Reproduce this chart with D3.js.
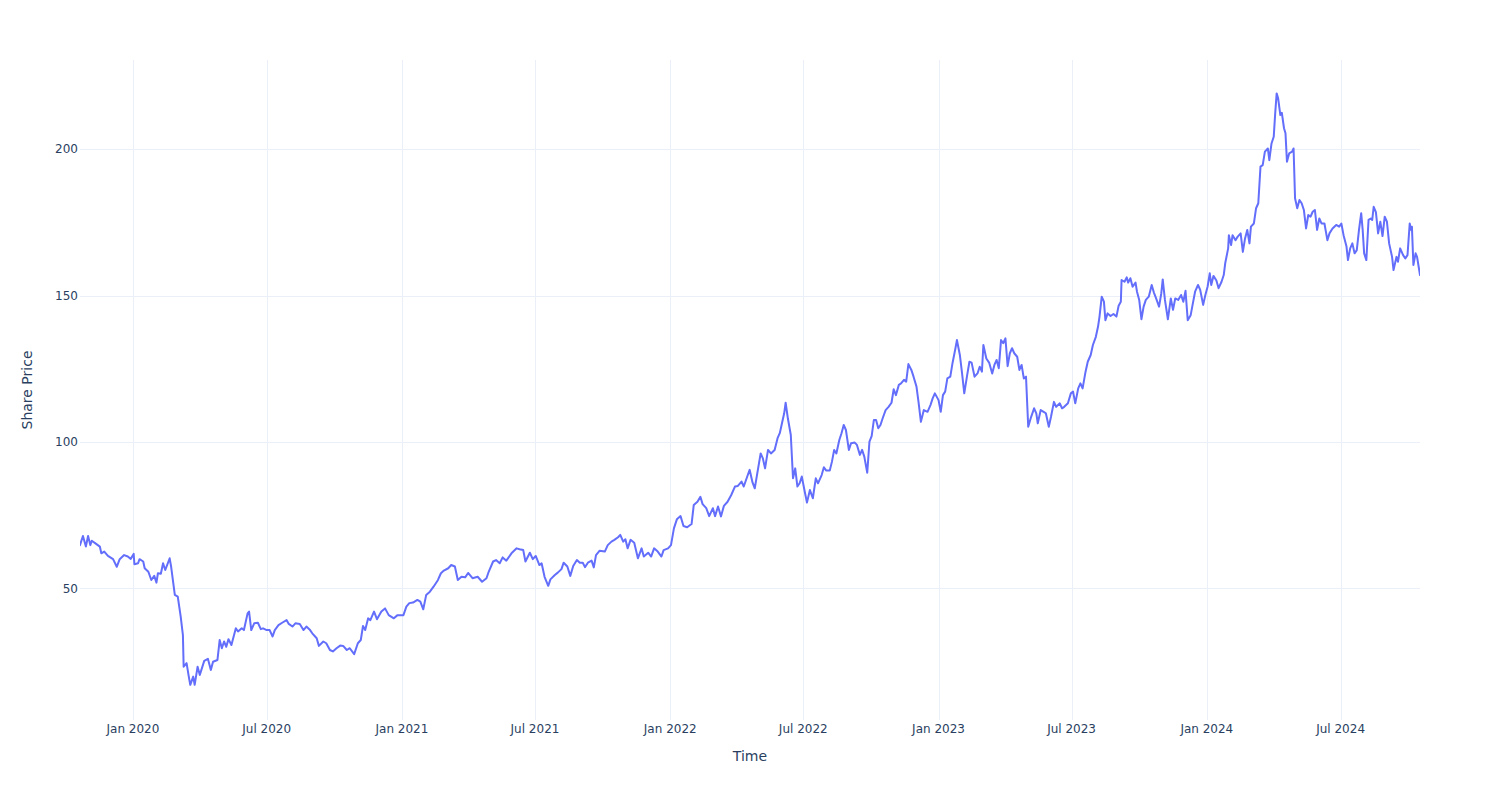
<!DOCTYPE html>
<html><head><meta charset="utf-8">
<script src="https://cdn.jsdelivr.net/npm/d3@7"></script>
<style>body{margin:0;background:#fff}svg{display:block}</style>
</head><body>
<svg id="chart" width="1500" height="800"></svg>
<script>
const dates = [
"2019-10-21","2019-10-25","2019-10-29","2019-11-01","2019-11-04","2019-11-06","2019-11-11","2019-11-17","2019-11-19","2019-11-23","2019-11-28",
"2019-12-05","2019-12-10","2019-12-14","2019-12-20","2019-12-25","2019-12-29",
"2020-01-02","2020-01-03","2020-01-08","2020-01-10","2020-01-15","2020-01-17","2020-01-22","2020-01-26","2020-01-30",
"2020-02-02","2020-02-04","2020-02-08","2020-02-11","2020-02-14","2020-02-20","2020-02-22","2020-02-27",
"2020-03-02","2020-03-06","2020-03-09","2020-03-10","2020-03-14","2020-03-17","2020-03-19","2020-03-23","2020-03-25","2020-03-29",
"2020-04-01","2020-04-07","2020-04-12","2020-04-16","2020-04-19","2020-04-25","2020-04-28",
"2020-05-01","2020-05-04","2020-05-07","2020-05-10","2020-05-14","2020-05-20","2020-05-23","2020-05-28","2020-05-31",
"2020-06-05","2020-06-07","2020-06-10","2020-06-14","2020-06-19","2020-06-23","2020-06-26",
"2020-07-01","2020-07-05","2020-07-09","2020-07-12","2020-07-17","2020-07-22","2020-07-28","2020-07-31",
"2020-08-05","2020-08-09","2020-08-15","2020-08-20","2020-08-24","2020-08-29",
"2020-09-01","2020-09-07","2020-09-10","2020-09-16","2020-09-20","2020-09-25","2020-09-29",
"2020-10-04","2020-10-09","2020-10-13","2020-10-18","2020-10-22","2020-10-28",
"2020-11-02","2020-11-06","2020-11-09","2020-11-12","2020-11-16","2020-11-19","2020-11-24","2020-11-28",
"2020-12-04","2020-12-09","2020-12-14","2020-12-21","2020-12-26",
"2021-01-03","2021-01-07","2021-01-11","2021-01-16","2021-01-22","2021-01-26","2021-01-30",
"2021-02-03","2021-02-08","2021-02-13","2021-02-19","2021-02-23","2021-02-27",
"2021-03-05","2021-03-09","2021-03-14","2021-03-18","2021-03-23","2021-03-28",
"2021-04-01","2021-04-07","2021-04-14","2021-04-20","2021-04-26","2021-04-29",
"2021-05-05","2021-05-09","2021-05-14","2021-05-18","2021-05-23","2021-05-30",
"2021-06-06","2021-06-10","2021-06-15","2021-06-18","2021-06-24","2021-06-28",
"2021-07-02","2021-07-07","2021-07-10","2021-07-14","2021-07-19","2021-07-22","2021-07-28",
"2021-08-01","2021-08-06","2021-08-09","2021-08-14","2021-08-18","2021-08-22","2021-08-27","2021-08-31",
"2021-09-04","2021-09-07","2021-09-11","2021-09-16","2021-09-19","2021-09-22","2021-09-27",
"2021-10-04","2021-10-08","2021-10-13","2021-10-17","2021-10-22","2021-10-25","2021-10-29",
"2021-11-01","2021-11-04","2021-11-08","2021-11-13","2021-11-18","2021-11-23","2021-11-26",
"2021-12-02","2021-12-06","2021-12-10","2021-12-15","2021-12-20","2021-12-23","2021-12-29",
"2022-01-02","2022-01-06","2022-01-10","2022-01-15","2022-01-19","2022-01-24","2022-01-30",
"2022-02-02","2022-02-07","2022-02-11","2022-02-14","2022-02-19","2022-02-23","2022-02-28",
"2022-03-03","2022-03-07","2022-03-11","2022-03-15","2022-03-20","2022-03-25","2022-03-30",
"2022-04-03","2022-04-08","2022-04-11","2022-04-16","2022-04-19","2022-04-23","2022-04-26","2022-04-29",
"2022-05-04","2022-05-07","2022-05-10","2022-05-14","2022-05-18","2022-05-23","2022-05-27","2022-05-30",
"2022-06-02","2022-06-05","2022-06-07","2022-06-10","2022-06-14","2022-06-17","2022-06-20","2022-06-23","2022-06-26","2022-06-29",
"2022-07-03","2022-07-06","2022-07-10","2022-07-14","2022-07-18","2022-07-21","2022-07-26","2022-07-29",
"2022-08-01","2022-08-06","2022-08-09","2022-08-12","2022-08-15","2022-08-19","2022-08-22","2022-08-25","2022-08-28",
"2022-09-01","2022-09-04","2022-09-09","2022-09-12","2022-09-16","2022-09-19","2022-09-22","2022-09-26","2022-09-29",
"2022-10-02","2022-10-05","2022-10-08","2022-10-11","2022-10-14","2022-10-17","2022-10-21","2022-10-25","2022-10-29",
"2022-11-01","2022-11-04","2022-11-08","2022-11-11","2022-11-15","2022-11-18","2022-11-21","2022-11-25","2022-11-28",
"2022-12-02","2022-12-05","2022-12-08","2022-12-12","2022-12-17","2022-12-21","2022-12-24","2022-12-27",
"2023-01-01","2023-01-04","2023-01-07","2023-01-10","2023-01-13","2023-01-17","2023-01-20","2023-01-24","2023-01-26","2023-01-30",
"2023-02-02","2023-02-05","2023-02-09","2023-02-12","2023-02-15","2023-02-19","2023-02-23","2023-02-26",
"2023-03-01","2023-03-03","2023-03-07","2023-03-11","2023-03-15","2023-03-18","2023-03-21","2023-03-24","2023-03-27","2023-03-30",
"2023-04-02","2023-04-05","2023-04-08","2023-04-11","2023-04-14","2023-04-18","2023-04-21","2023-04-24","2023-04-27","2023-04-30",
"2023-05-03","2023-05-07","2023-05-11","2023-05-14","2023-05-16","2023-05-20","2023-05-24","2023-05-27","2023-05-31",
"2023-06-03","2023-06-07","2023-06-10","2023-06-15","2023-06-18","2023-06-21","2023-06-26","2023-06-30",
"2023-07-03","2023-07-06","2023-07-10","2023-07-13","2023-07-16","2023-07-20","2023-07-23","2023-07-27","2023-07-30",
"2023-08-03","2023-08-06","2023-08-08","2023-08-11","2023-08-14","2023-08-16","2023-08-19","2023-08-23","2023-08-27","2023-08-31",
"2023-09-03","2023-09-06","2023-09-07","2023-09-11","2023-09-14","2023-09-16","2023-09-19","2023-09-22","2023-09-26","2023-09-28",
"2023-10-01","2023-10-04","2023-10-07","2023-10-10","2023-10-14","2023-10-18","2023-10-21","2023-10-24","2023-10-28","2023-10-31",
"2023-11-02","2023-11-05","2023-11-09","2023-11-13","2023-11-16","2023-11-19","2023-11-23","2023-11-27","2023-11-30",
"2023-12-03","2023-12-06","2023-12-10","2023-12-13","2023-12-16","2023-12-20","2023-12-23","2023-12-27","2023-12-30",
"2024-01-02","2024-01-05","2024-01-07","2024-01-10","2024-01-14","2024-01-17","2024-01-21","2024-01-24","2024-01-26","2024-01-30","2024-01-31",
"2024-02-03","2024-02-05","2024-02-09","2024-02-12","2024-02-16","2024-02-19","2024-02-22","2024-02-25","2024-02-28",
"2024-03-01","2024-03-05","2024-03-08","2024-03-11","2024-03-14","2024-03-17","2024-03-20","2024-03-24","2024-03-26","2024-03-29",
"2024-04-01","2024-04-03","2024-04-05","2024-04-07","2024-04-10","2024-04-12","2024-04-15","2024-04-17","2024-04-19","2024-04-22","2024-04-26","2024-04-28","2024-04-30",
"2024-05-03","2024-05-06","2024-05-09","2024-05-12","2024-05-15","2024-05-18","2024-05-21","2024-05-24","2024-05-27","2024-05-30",
"2024-06-02","2024-06-05","2024-06-09","2024-06-13","2024-06-16","2024-06-20","2024-06-25","2024-06-29",
"2024-07-02","2024-07-05","2024-07-09","2024-07-11","2024-07-14","2024-07-17","2024-07-20","2024-07-23","2024-07-26","2024-07-29","2024-07-31",
"2024-08-02","2024-08-05","2024-08-08","2024-08-11","2024-08-13","2024-08-15","2024-08-18","2024-08-21","2024-08-24","2024-08-27","2024-08-30",
"2024-09-02","2024-09-05","2024-09-09","2024-09-11","2024-09-15","2024-09-17","2024-09-20","2024-09-24","2024-09-27","2024-09-30",
"2024-10-03","2024-10-05","2024-10-06","2024-10-08","2024-10-11","2024-10-13","2024-10-17"
];
const prices = [
64.8,67.9,64.3,67.9,64.8,66.3,65.4,64.3,62.0,62.6,61.1,
60.0,57.4,60.0,61.4,60.9,60.1,
61.8,58.3,58.6,60.0,59.2,56.9,55.7,52.9,54.3,
52.0,55.2,55.0,58.6,56.3,60.3,57.4,47.8,
47.2,40.4,34.1,23.3,24.5,19.9,17.1,19.9,17.1,23.3,
20.5,25.3,26.0,22.2,25.0,25.6,32.4,
29.6,31.9,30.1,32.7,30.7,36.4,35.3,36.4,35.8,
41.5,42.1,35.8,38.1,38.3,36.1,36.4,
35.8,35.8,33.6,35.8,37.5,38.3,39.2,37.9,
37.0,38.1,37.9,35.8,37.0,35.8,
34.7,33.0,30.4,31.9,31.3,29.0,28.5,
29.6,30.5,30.4,29.0,29.6,27.6,
31.3,32.4,37.2,35.8,39.8,39.2,42.1,39.5,
42.1,43.2,40.9,39.8,40.9,
40.9,43.8,45.0,45.2,46.1,45.5,42.9,
47.8,48.9,50.6,52.9,55.2,56.1,
56.9,58.0,57.5,52.9,54.0,53.8,
55.3,53.5,54.0,52.3,53.5,55.7,
59.2,59.7,58.6,60.6,59.5,62.0,
63.7,63.4,63.1,59.2,62.2,60.0,
61.1,58.0,58.6,54.0,50.9,53.1,54.6,
55.4,56.6,58.8,57.5,54.3,57.7,59.7,58.8,
58.8,57.3,58.8,59.5,57.2,61.4,62.9,
62.6,64.8,66.0,66.6,67.5,68.3,66.0,
66.8,63.7,66.6,65.6,60.3,63.7,60.9,
62.2,60.9,63.7,62.6,60.9,63.1,63.7,
64.8,70.5,73.6,74.7,71.3,70.9,72.0,
78.5,79.6,81.3,78.8,77.4,74.7,77.4,
74.7,78.0,74.6,78.2,79.6,81.9,84.8,
85.0,86.5,84.8,88.4,90.5,86.1,84.2,88.7,
96.1,94.4,91.0,97.3,96.1,97.3,101.3,103.0,
106.4,109.8,113.4,108.1,102.4,87.6,91.0,84.8,85.9,88.2,
83.0,79.3,83.6,80.8,87.6,85.9,88.7,91.4,
90.3,90.3,93.3,97.3,96.1,100.7,103.0,105.8,104.1,
97.3,99.6,99.8,99.0,95.6,97.3,95.0,89.5,100.1,
102.0,107.5,107.5,104.7,105.8,108.1,110.9,112.0,113.4,
118.0,116.0,119.5,120.0,121.2,120.6,126.6,124.6,122.3,
118.9,113.2,106.9,110.9,110.3,112.6,114.9,116.6,
114.3,110.3,116.0,117.2,121.7,122.3,126.9,132.0,134.8,129.7,
123.4,116.6,122.9,127.4,127.1,122.3,123.4,125.7,
124.0,133.1,128.5,127.0,123.4,126.3,128.0,125.2,134.8,133.7,
135.4,125.9,130.3,132.0,130.3,129.1,124.6,126.3,121.7,122.3,
105.2,108.6,111.5,109.8,106.4,110.9,110.3,109.8,105.2,
108.6,113.7,112.0,113.2,111.5,112.0,113.2,116.6,
117.2,113.2,118.3,120.0,118.3,124.0,127.4,129.7,133.1,
135.9,139.4,142.8,149.6,147.9,141.6,143.9,143.0,143.7,142.8,
146.5,147.9,155.3,154.7,156.2,154.4,155.9,153.0,154.4,151.3,
148.5,141.9,146.2,148.5,149.6,153.6,151.0,149.0,146.2,150.7,
155.5,148.5,141.9,149.0,145.1,149.0,148.5,150.2,147.9,
151.6,141.6,143.3,147.3,151.3,153.6,151.9,146.8,150.2,
153.0,157.6,153.6,156.7,155.1,152.5,154.7,157.0,161.0,166.1,170.6,
167.2,170.6,168.9,170.1,171.2,164.9,169.5,172.4,167.8,
173.5,174.6,179.8,181.5,194.0,194.5,199.1,200.2,196.2,201.9,
204.2,212.2,219.0,217.3,211.6,212.4,207.1,205.4,195.7,198.5,199.1,200.2,183.2,
179.8,182.6,181.5,179.2,172.9,177.5,176.9,178.6,179.2,172.4,
176.3,174.6,174.6,168.9,171.3,172.9,174.1,173.5,
174.6,170.6,166.7,162.1,166.1,167.8,164.4,165.5,172.4,178.1,172.4,
164.4,162.1,175.8,176.3,175.8,180.3,178.5,171.2,175.2,170.3,176.9,
175.2,167.8,163.2,158.7,163.2,161.5,166.1,163.8,162.7,163.8,
174.6,172.4,173.5,160.4,164.4,163.2,157.0
];
const xTickDates = ["2020-01-01","2020-07-01","2021-01-01","2021-07-01","2022-01-01","2022-07-01","2023-01-01","2023-07-01","2024-01-01","2024-07-01"];
const yTickValues = [50,100,150,200];
const xTitle = "Time";
const yTitle = "Share Price";

const parse = d3.utcParse("%Y-%m-%d");
const data = dates.map((d,i)=>({date: parse(d), value: prices[i]}));

const W = 1500, H = 800;
const m = {l:80, r:80, t:60, b:80};
const svg = d3.select("#chart");
const font = "'DejaVu Sans', Verdana, sans-serif";
const txt = "#2a3f5f", grid = "#ebf0f8";

const x = d3.scaleUtc().domain(d3.extent(data, d=>d.date)).range([m.l, W-m.r]);
const y = d3.scaleLinear().domain([5.1, 230.4]).range([H-m.b, m.t]);

const gx = xTickDates.map(parse);

// gridlines
svg.append("g").selectAll("line").data(gx).join("line")
  .attr("x1", d=>Math.round(x(d))+0.5).attr("x2", d=>Math.round(x(d))+0.5)
  .attr("y1", m.t).attr("y2", H-m.b)
  .attr("stroke", grid).attr("stroke-width", 1);
svg.append("g").selectAll("line").data(yTickValues).join("line")
  .attr("x1", m.l).attr("x2", W-m.r)
  .attr("y1", d=>Math.round(y(d))+0.5).attr("y2", d=>Math.round(y(d))+0.5)
  .attr("stroke", grid).attr("stroke-width", 1);

// clip
svg.append("clipPath").attr("id","clip").append("rect")
  .attr("x", m.l).attr("y", m.t).attr("width", W-m.l-m.r).attr("height", H-m.t-m.b);

const line = d3.line().x(d=>x(d.date)).y(d=>y(d.value));
svg.append("path").datum(data)
  .attr("clip-path","url(#clip)")
  .attr("fill","none").attr("stroke","#636efa").attr("stroke-width",2)
  .attr("stroke-linejoin","round").attr("stroke-linecap","round")
  .attr("d", line);

// tick labels
const fmt = d3.utcFormat("%b %Y");
svg.append("g").selectAll("text").data(gx).join("text")
  .attr("x", d=>x(d)).attr("y", H-m.b+12.5)
  .attr("text-anchor","middle").attr("font-family",font).attr("font-size",12).attr("fill",txt)
  .text(d=>fmt(d));
svg.append("g").selectAll("text").data(yTickValues).join("text")
  .attr("x", m.l-2).attr("y", d=>y(d)+4.2)
  .attr("text-anchor","end").attr("font-family",font).attr("font-size",12).attr("fill",txt)
  .text(d=>d);

// axis titles
svg.append("text").attr("x", (m.l + W-m.r)/2).attr("y", H-m.b+41)
  .attr("text-anchor","middle").attr("font-family",font).attr("font-size",14).attr("fill",txt)
  .text(xTitle);
svg.append("text").attr("transform", `translate(${32},${(m.t + H-m.b)/2}) rotate(-90)`)
  .attr("text-anchor","middle").attr("font-family",font).attr("font-size",14).attr("fill",txt)
  .text(yTitle);
</script>
</body></html>
